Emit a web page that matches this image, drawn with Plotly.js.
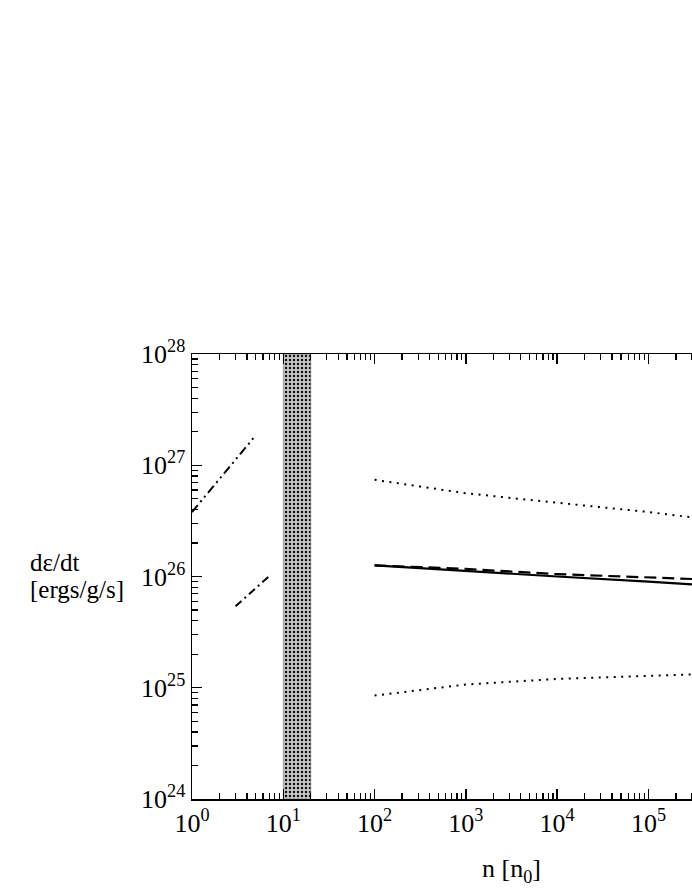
<!DOCTYPE html>
<html>
<head>
<meta charset="utf-8">
<script src="https://cdn.plot.ly/plotly-3.0.1.min.js"></script>
<style>
  html, body { margin: 0; padding: 0; overflow: hidden; background: #fff; }
  #chart { width: 860px; height: 896px; }
</style>
</head>
<body>
<div id="chart"></div>
<script>
// heating rate vs density
const nHigh = [100, 1000, 1e4, 1e5, 3e5];
const solidRate  = [1.26e26, 1.12e26, 1.00e26, 0.90e26, 0.85e26];
const dashedRate = [1.26e26, 1.17e26, 1.05e26, 0.98e26, 0.95e26];
const dotUpper   = [7.4e26, 5.6e26, 4.6e26, 3.8e26, 3.4e26];
const dotLower   = [8.5e24, 1.07e25, 1.20e25, 1.29e25, 1.32e25];

const nDdd = [1, 5];
const rateDdd = [3.8e26, 1.86e27];
const nDd = [3, 7.4];
const rateDd = [5.4e25, 1.05e26];

// excluded density band
const bandN = [10, 20];
const yLo = 1e24, yHi = 1e28;

const SERIF = "Liberation Serif, Times New Roman, serif";

function decadeTicks(lo, hi) {
  const vals = [], text = [], minor = [];
  for (let e = lo; e <= hi; e++) {
    vals.push(Math.pow(10, e));
    text.push("10<sup>" + e + "</sup>");
    if (e < hi) for (let k = 2; k <= 9; k++) minor.push(k * Math.pow(10, e));
  }
  return { vals, text, minor };
}
const xt = decadeTicks(0, 7);
const yt = decadeTicks(24, 28);

const line = (x, y, dash, width) => ({
  type: "scatter", mode: "lines", x, y,
  line: { color: "#000", width, dash },
  hoverinfo: "skip", showlegend: false,
});

const traces = [
  {
    type: "scatter", mode: "lines",
    x: [bandN[0], bandN[1], bandN[1], bandN[0], bandN[0]],
    y: [yLo, yLo, yHi, yHi, yLo],
    fill: "toself", fillcolor: "#bdbdbd",
    fillpattern: { shape: ".", bgcolor: "#c8c8c8", fgcolor: "#111", size: 4, solidity: 0.3 },
    line: { color: "#666", width: 0.5 },
    hoverinfo: "skip", showlegend: false,
  },
  line(nDdd, rateDdd, "9px,4px,2px,4px,2px,4px", 2),
  line(nDd, rateDd, "8px,4px,2px,4px", 2),
  line(nHigh, dotUpper, "2px,5.5px", 2),
  line(nHigh, dotLower, "2px,5.5px", 2),
  line(nHigh, dashedRate, "12px,6px", 2.2),
  line(nHigh, solidRate, "solid", 2.2),
];

const axisBase = {
  type: "log",
  showgrid: false, zeroline: false,
  showline: true, linecolor: "#000", linewidth: 1.5,
  mirror: "ticks",
  ticks: "inside", ticklen: 10, tickwidth: 1.3, tickcolor: "#000",
  tickmode: "array",
  tickfont: { family: SERIF, size: 26, color: "#000" },
};

const minorTicks = vals => ({
  tickmode: "array", tickvals: vals,
  ticks: "inside", ticklen: 6, tickwidth: 1.2, tickcolor: "#000", showgrid: false,
});

const yLabel = (text, yPx) => ({
  xref: "paper", yref: "paper",
  x: (28 - 192) / 639, y: (799 - yPx) / 445,
  xanchor: "left", yanchor: "middle", align: "left",
  showarrow: false, text,
  font: { family: SERIF, size: 25, color: "#000" },
});

const layout = {
  width: 860, height: 896,
  paper_bgcolor: "#fff", plot_bgcolor: "#fff",
  margin: { l: 192, r: 29, t: 354, b: 97 },
  showlegend: false,
  xaxis: {
    ...axisBase,
    range: [0, 7],
    tickvals: xt.vals, ticktext: xt.text,
    minor: minorTicks(xt.minor),
    title: { text: "n [n<sub>0</sub>]", font: { family: SERIF, size: 26, color: "#000" }, standoff: 22 },
  },
  yaxis: {
    ...axisBase,
    range: [24, 28],
    tickvals: yt.vals, ticktext: yt.text,
    minor: minorTicks(yt.minor),
  },
  annotations: [
    yLabel("dε/dt", 562),
    yLabel("[ergs/g/s]", 589),
  ],
};

Plotly.newPlot("chart", traces, layout, { displayModeBar: false, staticPlot: true });
</script>
</body>
</html>
